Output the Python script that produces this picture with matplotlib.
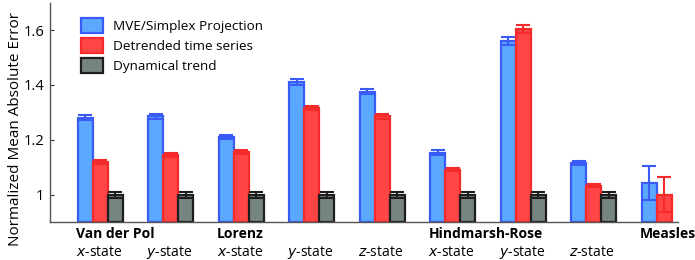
import matplotlib.pyplot as plt
import numpy as np

plt.rcParams['font.family'] = ['Open Sans', 'DejaVu Sans']

# values
systems = ['Van der Pol', '', 'Lorenz', '', '', 'Hindmarsh-Rose', '', '', 'Measles']
states = ['x', 'y', 'x', 'y', 'z', 'x', 'y', 'z', '']
mve = [1.28, 1.285, 1.21, 1.41, 1.375, 1.153, 1.56, 1.116, 1.042]
mve_err = [0.009, 0.009, 0.008, 0.01, 0.009, 0.008, 0.016, 0.007, 0.063]
detr = [1.12, 1.145, 1.155, 1.315, 1.285, 1.091, 1.604, 1.033, 1.0]
detr_err = [0.007, 0.008, 0.008, 0.008, 0.008, 0.006, 0.015, 0.006, 0.065]
trend = [1.0, 1.0, 1.0, 1.0, 1.0, 1.0, 1.0, 1.0]
trend_err = [0.011] * 8

x = np.arange(len(mve))
w = 0.213

fig = plt.figure(figsize=(6.95, 2.6), dpi=100)
ax = fig.add_axes([0.072, 0.146, 0.904, 0.844])

bottom = 0.9
styles = [
    (mve, mve_err, x - w, '#5ba8ff', '#3a5cf5', 'MVE/Simplex Projection'),
    (detr, detr_err, x, '#ff4545', '#f52a2a', 'Detrended time series'),
    (trend, trend_err, x[:8] + w, '#778581', '#1e1e1e', 'Dynamical trend'),
]
for vals, errs, xs, face, edge, lab in styles:
    vals = np.array(vals)
    ax.bar(xs, vals - bottom, w, bottom=bottom, color=face, edgecolor=edge,
           linewidth=1.6, label=lab, zorder=2)
    ax.errorbar(xs, vals, yerr=errs, fmt='none', ecolor=edge, elinewidth=1.5,
                capsize=5, capthick=1.5, zorder=3)

ax.set_xlim(-0.71, 8.2)
ax.set_ylim(0.9, 1.7)
ax.set_yticks([1, 1.2, 1.4, 1.6])
ax.set_yticklabels(['1', '1.2', '1.4', '1.6'], fontsize=10.5)
ax.set_xticks([])
ax.tick_params(axis='y', direction='in', length=3, width=0.8, colors='#333333',
               labelcolor='black', pad=4)
for s in ['top', 'right']:
    ax.spines[s].set_visible(False)
for s in ['left', 'bottom']:
    ax.spines[s].set_color('#555555')
    ax.spines[s].set_linewidth(1.0)

# y label sits lower than the axes centre in the reference
fig.text(0.022, 0.505, 'Normalized Mean Absolute Error', fontsize=11,
         rotation=90, ha='center', va='center')

for i in x:
    x0 = i - 0.345
    if systems[i]:
        ax.text(x0, 0.855, systems[i], fontsize=10, fontweight='bold',
                ha='left', va='center', clip_on=False)
    if states[i]:
        ax.text(x0, 0.79, r'$\it{' + states[i] + '}$-state', fontsize=10,
                ha='left', va='center', clip_on=False)

leg = ax.legend(loc='upper left', bbox_to_anchor=(0.03, 0.985), frameon=False,
                fontsize=9.7, handlelength=1.6, handleheight=1.35,
                labelspacing=0.35, handletextpad=0.8)

fig.savefig('out.png', dpi=100)
